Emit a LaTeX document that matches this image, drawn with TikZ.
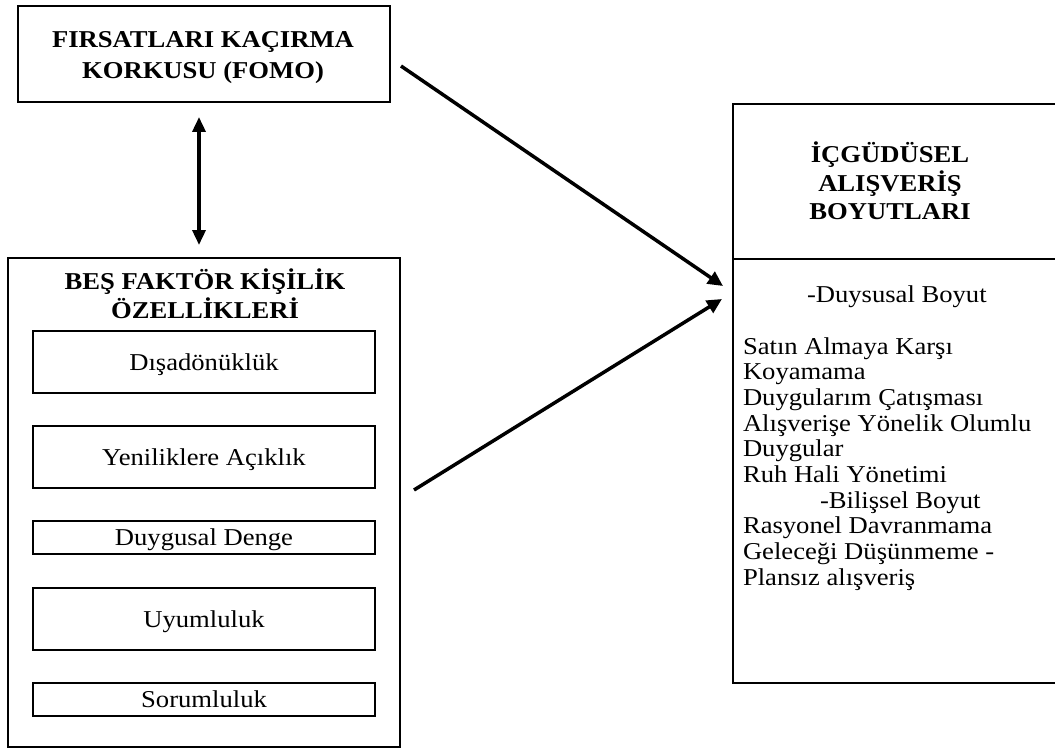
\documentclass[tikz,border=0pt]{standalone}
\usepackage{fontspec}
\setmainfont{Liberation Serif}[FakeStretch=1.10]
\usetikzlibrary{arrows.meta}
\begin{document}
\begin{tikzpicture}[x=1pt,y=-1pt,
  every node/.style={font=\fontsize{24.2pt}{25.7pt}\selectfont, inner sep=0pt, outer sep=0pt},
  frame/.style={draw, line width=1.8pt, rectangle},
  item/.style={frame, minimum width=342pt, text height=16pt, text depth=0pt},
  head/.style={anchor=base, font=\fontsize{24.2pt}{25.7pt}\selectfont\bfseries},
  line/.style={anchor=base west},
  conn/.style={line width=3.5pt, -{Triangle[length=15pt,width=14pt]}},
  dbl/.style={line width=3.5pt, {Triangle[length=15pt,width=13pt]}-{Triangle[length=15pt,width=13pt]}}
]
\useasboundingbox (0,0) rectangle (1055,749);

% FOMO box
\node[frame, minimum width=372pt, minimum height=96pt] (fomo) at (204,54) {};
\node[head] (fomoA) at (203,48) {FIRSATLARI KAÇIRMA};
\node[head] (fomoB) at (203,79) {KORKUSU (FOMO)};

% Big five box with its five traits
\node[frame, minimum width=392pt, minimum height=489pt] (bes) at (204,502.5) {};
\node[head] (besA) at (205,289) {BEŞ FAKTÖR KİŞİLİK};
\node[head] (besB) at (205,318) {ÖZELLİKLERİ};
\node[item, minimum height=62pt] (ext) at (204,362) {Dışadönüklük};
\node[item, minimum height=62pt] (opn) at (204,457) {Yeniliklere Açıklık};
\node[item, minimum height=33pt] (emo) at (204,537.5) {Duygusal Denge};
\node[item, minimum height=62pt] (agr) at (204,619) {Uyumluluk};
\node[item, minimum height=33pt] (con) at (204,699.5) {Sorumluluk};

% Impulse buying box: header and body
\node[frame, minimum width=332pt, minimum height=155pt] (hdr) at (899,181.5) {};
\node[frame, minimum width=332pt, minimum height=424pt] (body) at (899,471) {};
\node[head] (hdrA) at (890,163) {İÇGÜDÜSEL};
\node[head] (hdrB) at (890,191) {ALIŞVERİŞ};
\node[head] (hdrC) at (890,219) {BOYUTLARI};

\node[line] (l1) at (807,302) {-Duysusal Boyut};
\node[line] (l2) at (743,354) {Satın Almaya Karşı};
\node[line] (l3) at (743,379.7) {Koyamama};
\node[line] (l4) at (743,405.4) {Duygularım Çatışması};
\node[line] (l5) at (743,431.1) {Alışverişe Yönelik Olumlu};
\node[line] (l6) at (743,456.8) {Duygular};
\node[line] (l7) at (743,482.5) {Ruh Hali Yönetimi};
\node[line] (l8) at (820,508.2) {-Bilişsel Boyut};
\node[line] (l9) at (743,533.9) {Rasyonel Davranmama};
\node[line] (l10) at (743,559.6) {Geleceği Düşünmeme -};
\node[line] (l11) at (743,585.3) {Plansız alışveriş};

% Connectors
\draw[dbl] ([shift={(-5pt,-15pt)}]fomo.south) -- ([shift={(-5pt,13pt)}]bes.north);
\draw[conn] ([shift={(11pt,-12pt)}]fomo.east) -- ([shift={(-10pt,-27pt)}]body.north west);
\draw[conn] ([shift={(14pt,12.5pt)}]bes.east) -- ([shift={(-11pt,-40pt)}]body.north west);
\end{tikzpicture}
\end{document}
